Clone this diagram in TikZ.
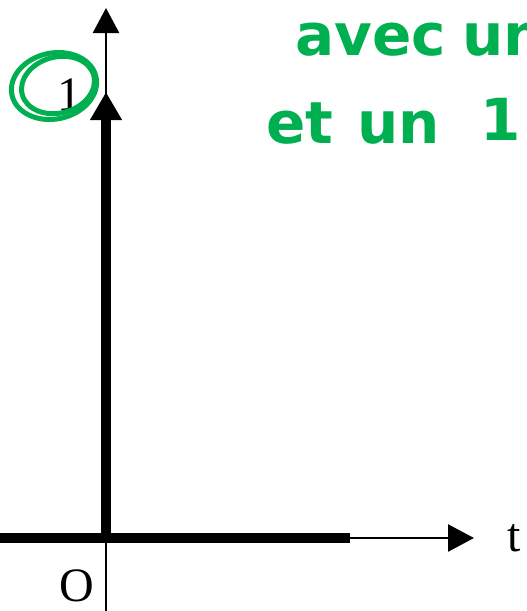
\documentclass[tikz,border=0pt]{standalone}
\usepackage{fontspec}
\setmainfont{Liberation Serif}
\newfontfamily\handfont{DejaVu Sans}
\usetikzlibrary{arrows.meta}
\definecolor{markgreen}{RGB}{0,176,80}
\begin{document}
\begin{tikzpicture}[x=1pt,y=-1pt,
  thinaxis/.style={line width=2.6pt},
  thickline/.style={line width=10pt},
  lbl/.style={font=\fontsize{48}{52}\selectfont, inner sep=0pt},
  hand/.style={font=\handfont\bfseries\fontsize{58}{62}\selectfont, text=markgreen, inner sep=0pt, anchor=base west},
  greenring/.style={draw=markgreen, line width=5pt}]
\useasboundingbox (0,0) rectangle (527,611);
\clip (0,0) rectangle (527,611);
% coordinates
\coordinate (vbot) at (106,611);
\coordinate (vtop) at (106,8);
\coordinate (hleft) at (0,538);
\coordinate (hright) at (474,538);
\coordinate (origin) at (106,538);
\coordinate (diractip) at (106,92);
\coordinate (thickend) at (350,538);
% axes
\draw[thinaxis, -{Triangle[length=25pt,width=26pt]}] (vbot) -- (vtop);
\draw[thinaxis, -{Triangle[length=26pt,width=27pt]}] (hleft) -- (hright);
\draw[thickline] (hleft) -- (thickend);
\draw[line width=10pt, -{Triangle[length=28pt,width=30pt]}] (origin) -- (diractip);
% labels
\node[lbl] (t) at (514,538) {t};
\node[lbl] (O) at (77,586) {O};
\node[lbl] (one) at (69,95) {1};
% green marks
\draw[greenring, rotate around={12:(54,86)}] (54,86) ellipse [x radius=43, y radius=33];
\draw[greenring, rotate around={15:(58,85)}] (58,85) ellipse [x radius=37, y radius=28];
\node[hand] (avec) at (295,55) {avec};
\node[hand] (un1) at (462,55) {un};
\node[hand] (et) at (266,143) {et};
\node[hand] (un2) at (357,143) {un};
\node[hand] (un3) at (480,140) {1};
\end{tikzpicture}
\end{document}
